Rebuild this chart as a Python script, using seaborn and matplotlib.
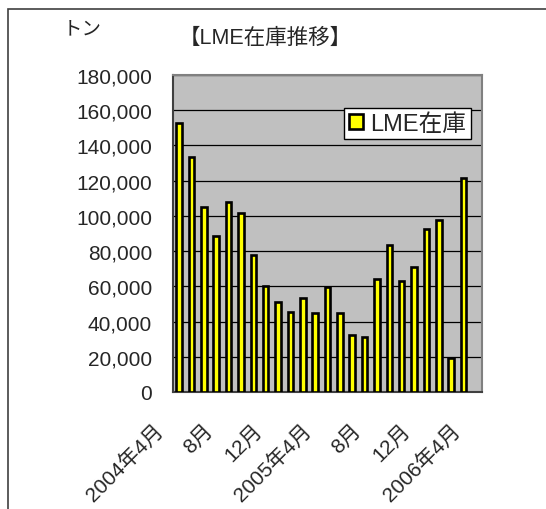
import matplotlib
matplotlib.use("Agg")
import matplotlib.pyplot as plt
import matplotlib.patches as mpatches
import matplotlib.transforms as mtransforms
import numpy as np
import pandas as pd
import seaborn as sns

months = ["2004年4月", "5月", "6月", "7月", "8月", "9月", "10月", "11月", "12月",
          "2005年1月", "2月", "3月", "2005年4月", "5月 ", "6月 ", "7月 ", "8月 ", "9月 ",
          "10月 ", "11月 ", "12月 ", "2006年1月", "2月 ", "3月 ", "2006年4月"]
stock = [153000, 133500, 105300, 88300, 107800, 101700, 77900, 60300, 51200,
         45700, 53300, 45000, 59700, 44800, 32100, 31400, 64300, 83200, 62800,
         71100, 92600, 97700, 19100, 121600, np.nan]
tick_labels = ["2004年4月", "8月", "12月", "2005年4月", "8月", "12月", "2006年4月"]
yticks = list(range(0, 180001, 20000))

sns.set_theme(style="white")
plt.rcParams['font.family'] = ['Liberation Sans', 'Noto Sans CJK JP', 'DejaVu Sans']

W, H = 546, 510
fig = plt.figure(figsize=(W / 100, H / 100), dpi=100)
fig.patch.set_facecolor("white")

# chart-area frame (cropped right and bottom)
fig.add_artist(mpatches.Rectangle((8 / W, -0.1), 1.2, (1 - 10 / H) + 0.1,
                                  transform=fig.transFigure, fill=False,
                                  edgecolor="#404040", linewidth=1.2))

ax = fig.add_axes([173 / W, 1 - 393 / H, (482 - 173) / W, (393 - 76) / H])
ax.set_facecolor("#C0C0C0")

df = pd.DataFrame({"month": months, "stock": stock})
sns.barplot(data=df, x="month", y="stock", order=months, color="#FFFF00",
            edgecolor="black", linewidth=1.9, width=0.45, saturation=1,
            ax=ax, zorder=3)

ax.set_xlim(-0.5, len(months) - 0.5)
ax.set_ylim(0, 180000)
ax.set_yticks(yticks)
ax.set_yticklabels([f"{v:,}" for v in yticks], fontsize=15)
ax.yaxis.grid(True, color="black", linewidth=0.9, zorder=0)
ax.set_axisbelow(True)
ax.set_xlabel("")
ax.set_ylabel("")

ax.set_xticks(np.arange(-0.5, len(months), 1), minor=True)
ax.set_xticks(range(0, len(months), 4))
ax.set_xticklabels(tick_labels, fontsize=15, rotation=45, ha="right", va="top",
                   rotation_mode="anchor")
ax.tick_params(axis="x", which="major", length=0, pad=12)
ax.tick_params(axis="x", which="minor", length=4, color="#404040", width=1, direction="out")
ax.tick_params(axis="y", length=0, pad=15)
offset = mtransforms.ScaledTranslation(-26 / 100, -11 / 100, fig.dpi_scale_trans)
for lab in ax.get_xticklabels():
    lab.set_transform(lab.get_transform() + offset)

for side in ["top", "right"]:
    ax.spines[side].set_color("#808080")
    ax.spines[side].set_linewidth(1.5)
for side in ["left", "bottom"]:
    ax.spines[side].set_color("#404040")
    ax.spines[side].set_linewidth(1.5)

handle = mpatches.Patch(facecolor="#FFFF00", edgecolor="black", linewidth=1.9, label="LME在庫")
leg = ax.legend(handles=[handle], loc="upper left",
                bbox_to_anchor=((344 - 173) / (482 - 173), 1 - (109 - 76) / (393 - 76)),
                fontsize=17, frameon=True, fancybox=False, edgecolor="black",
                framealpha=1, borderpad=0.2, handlelength=0.6, handleheight=0.6,
                handletextpad=0.3, borderaxespad=0)
leg.get_frame().set_linewidth(1.0)

fig.text(265 / W, 1 - 38 / H, "【LME在庫推移】", fontsize=15.5, ha="center", va="center")
fig.text(82 / W, 1 - 30 / H, "トン", fontsize=14, ha="center", va="center")

fig.savefig("out.png", dpi=100)
